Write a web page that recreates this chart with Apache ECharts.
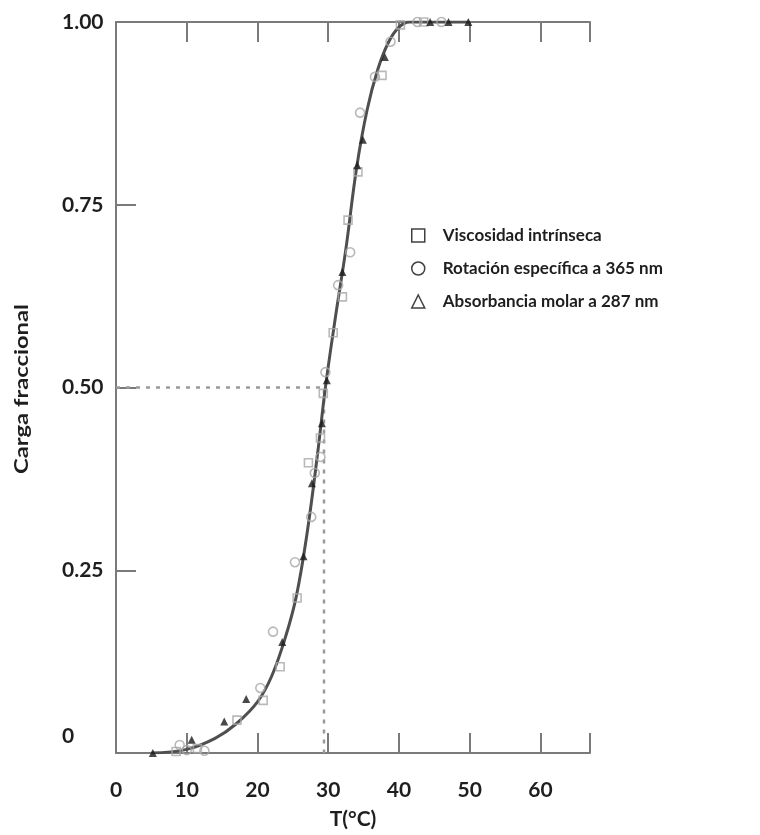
<!DOCTYPE html>
<html>
<head>
<meta charset="utf-8">
<script src="https://cdn.jsdelivr.net/npm/echarts@6/dist/echarts.min.js"></script>
<style>
  html, body { margin: 0; padding: 0; background: #ffffff; }
  #chart { width: 760px; height: 835px; }
</style>
</head>
<body>
<div id="chart"></div>
<script>
// Axis ticks and labels
const xTicks = [0, 10, 20, 30, 40, 50, 60];
const yTickValues = [0, 0.25, 0.5, 0.75, 1.0];
const yTickLabels = ['0', '0.25', '0.50', '0.75', '1.00'];

// Legend entries
const seriesNames = ['Viscosidad intrínseca', 'Rotación específica a 365 nm', 'Absorbancia molar a 287 nm'];

// Measured points: [T (°C), fractional charge]
const viscosidad = [
  [8.5, 0.002], [11.5, 0.006], [17.1, 0.045], [20.8, 0.072], [23.2, 0.118],
  [25.6, 0.212], [27.2, 0.397], [28.9, 0.431], [29.3, 0.492], [30.7, 0.575],
  [32.0, 0.624], [32.8, 0.729], [34.2, 0.795], [37.6, 0.927], [40.2, 0.996], [43.5, 1.0]
];
const rotacion = [
  [9.0, 0.011], [10.0, 0.004], [12.5, 0.003], [20.4, 0.089], [22.2, 0.166],
  [25.3, 0.261], [27.6, 0.323], [28.1, 0.383], [28.9, 0.405], [29.6, 0.521],
  [31.4, 0.640], [33.1, 0.685], [34.5, 0.876], [36.6, 0.925], [38.8, 0.973],
  [42.6, 1.0], [46.0, 1.0]
];
const absorbancia = [
  [5.2, 0.0], [10.7, 0.018], [15.3, 0.043], [18.4, 0.074], [23.5, 0.152],
  [26.5, 0.269], [27.7, 0.369], [29.1, 0.451], [29.8, 0.510], [32.0, 0.658],
  [34.1, 0.804], [34.9, 0.839], [38.0, 0.952], [44.4, 1.0], [47.0, 1.0], [49.8, 1.0]
];

// Fitted transition curve
const curveT    = [5.0, 10.0, 14.0, 17.0, 20.0, 22.0, 24.0, 25.5, 27.0, 28.5, 29.6, 31.0, 32.5, 34.0, 35.5, 37.0, 38.5, 40.0, 41.5, 44.0, 50.0];
const curveFrac = [0.0, 0.005, 0.02, 0.04, 0.07, 0.105, 0.16, 0.215, 0.30, 0.41, 0.50, 0.595, 0.69, 0.80, 0.88, 0.935, 0.972, 0.993, 1.0, 1.0, 1.0];

// Midpoint of the transition
const midFrac = 0.5;
const midT = 29.4;

const axisGray = '#7a7a7a';
const textDark = '#1e1e1e';
const labelFont = 'Lato, "Open Sans", sans-serif';

const chart = echarts.init(document.getElementById('chart'), null, { renderer: 'canvas' });

const openMarker = (symbol, size) => ({
  type: 'scatter',
  symbol: symbol,
  symbolSize: size,
  itemStyle: { color: 'rgba(255,255,255,0)', borderColor: '#a8a8a8', borderWidth: 1.6 },
  z: 4
});

chart.setOption({
  animation: false,
  backgroundColor: '#ffffff',
  grid: { left: 116, right: 170, top: 22, bottom: 82, containLabel: false },
  legend: {
    orient: 'vertical',
    left: 406,
    top: 222,
    itemWidth: 13,
    itemHeight: 13,
    itemGap: 16,
    textStyle: {
      color: textDark, fontFamily: labelFont, fontWeight: 'bold', fontSize: 17,
      padding: [0, 0, 0, 13]
    },
    data: [
      { name: seriesNames[0], icon: 'rect', itemStyle: { color: '#ffffff', borderColor: '#111', borderWidth: 1.5 } },
      { name: seriesNames[1], icon: 'circle', itemStyle: { color: '#ffffff', borderColor: '#111', borderWidth: 1.5 } },
      { name: seriesNames[2], icon: 'triangle', itemStyle: { color: '#ffffff', borderColor: '#111', borderWidth: 1.5 } }
    ]
  },
  xAxis: [
    {
      type: 'value', position: 'bottom',
      min: xTicks[0], max: 67, interval: 10,
      name: 'T(°C)', nameLocation: 'middle', nameGap: 56,
      nameTextStyle: { color: textDark, fontFamily: labelFont, fontWeight: 'bold', fontSize: 21 },
      axisLine: { show: true, lineStyle: { color: axisGray, width: 2 } },
      axisTick: { show: true, inside: true, length: 20, lineStyle: { color: axisGray, width: 2 } },
      axisLabel: {
        margin: 27, color: textDark, fontFamily: labelFont, fontWeight: 'bold', fontSize: 21,
        formatter: v => (xTicks.indexOf(v) >= 0 ? String(v) : '')
      },
      splitLine: { show: false }
    },
    {
      type: 'value', position: 'top',
      min: xTicks[0], max: 67, interval: 10,
      axisLine: { show: true, lineStyle: { color: axisGray, width: 2 } },
      axisTick: { show: true, inside: true, length: 20, lineStyle: { color: axisGray, width: 2 } },
      axisLabel: { show: false },
      splitLine: { show: false }
    }
  ],
  yAxis: {
    type: 'value', min: 0, max: 1, interval: 0.25,
    axisLine: { show: true, lineStyle: { color: axisGray, width: 2 } },
    axisTick: { show: true, inside: true, length: 20, lineStyle: { color: axisGray, width: 2 } },
    axisLabel: {
      margin: 54, align: 'left', color: textDark, fontFamily: labelFont, fontWeight: 'bold', fontSize: 21,
      formatter: v => {
        const i = yTickValues.findIndex(t => Math.abs(t - v) < 1e-9);
        if (i < 0) return '';
        return i === 0 ? '{zero|' + yTickLabels[i] + '}' : yTickLabels[i];
      },
      rich: {
        zero: { color: textDark, fontFamily: labelFont, fontWeight: 'bold', fontSize: 21, padding: [0, 0, 34, 0] }
      }
    },
    splitLine: { show: false }
  },
  graphic: [
    {
      type: 'text',
      x: 22, y: 389,
      rotation: Math.PI / 2,
      scaleX: 1.25,
      style: {
        text: 'Carga fraccional',
        fill: textDark,
        font: 'bold 19px Lato, "Open Sans", sans-serif',
        align: 'center',
        verticalAlign: 'middle'
      }
    }
  ],
  series: [
    {
      name: 'guia',
      type: 'line',
      data: [[0, midFrac], [midT, midFrac], [midT, 0]],
      symbol: 'none',
      lineStyle: { color: '#9a9a9a', width: 2.5, type: [4, 6] },
      z: 1, silent: true
    },
    {
      name: 'curva',
      type: 'line',
      data: curveT.map((t, i) => [t, curveFrac[i]]),
      symbol: 'none',
      smooth: 0.4,
      lineStyle: { color: '#4f4f4f', width: 3 },
      z: 2, silent: true
    },
    Object.assign({ name: seriesNames[0], data: viscosidad }, openMarker('rect', 8)),
    Object.assign({ name: seriesNames[1], data: rotacion }, openMarker('circle', 9)),
    {
      name: seriesNames[2],
      type: 'scatter',
      symbol: 'triangle',
      symbolSize: 8,
      data: absorbancia,
      itemStyle: { color: '#1a1a1a' },
      z: 5
    }
  ]
});
</script>
</body>
</html>
